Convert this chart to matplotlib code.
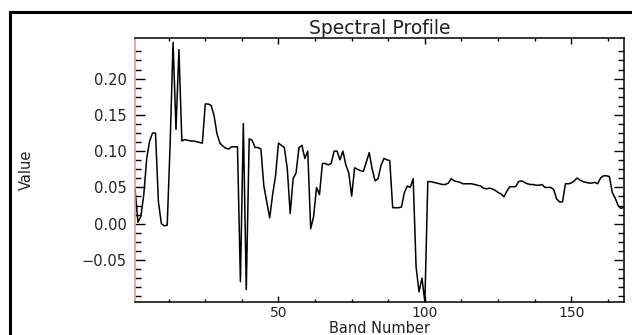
import matplotlib
matplotlib.use("Agg")
import matplotlib.pyplot as plt
import numpy as np
from matplotlib.lines import Line2D
from matplotlib.ticker import MultipleLocator, FixedLocator, FuncFormatter

# spectral values, one per band (1..168)
values = [
    0.048, 0.002, 0.010, 0.040, 0.090, 0.114, 0.125, 0.125, 0.030, 0.000,
    -0.003, -0.002, 0.110, 0.250, 0.130, 0.240, 0.114, 0.116, 0.115, 0.114,
    0.114, 0.113, 0.112, 0.111, 0.165, 0.165, 0.163, 0.149, 0.124, 0.111,
    0.107, 0.104, 0.103, 0.106, 0.106, 0.106, -0.080, 0.138, -0.091, 0.117,
    0.115, 0.105, 0.105, 0.103, 0.052, 0.030, 0.008, 0.040, 0.066, 0.111,
    0.108, 0.105, 0.076, 0.014, 0.062, 0.070, 0.105, 0.108, 0.090, 0.100,
    -0.007, 0.010, 0.050, 0.040, 0.083, 0.083, 0.081, 0.083, 0.100, 0.100,
    0.088, 0.100, 0.081, 0.070, 0.038, 0.077, 0.075, 0.073, 0.072, 0.085,
    0.098, 0.075, 0.059, 0.062, 0.080, 0.090, 0.088, 0.087, 0.022, 0.022,
    0.022, 0.023, 0.043, 0.052, 0.050, 0.062, -0.060, -0.094, -0.075, -0.108,
    0.058, 0.058, 0.057, 0.056, 0.055, 0.054, 0.054, 0.056, 0.062, 0.059,
    0.058, 0.057, 0.055, 0.055, 0.055, 0.055, 0.054, 0.053, 0.052, 0.049,
    0.048, 0.049, 0.048, 0.046, 0.043, 0.041, 0.037, 0.045, 0.051, 0.051,
    0.051, 0.058, 0.059, 0.057, 0.055, 0.054, 0.054, 0.053, 0.053, 0.054,
    0.050, 0.050, 0.050, 0.047, 0.034, 0.030, 0.030, 0.055, 0.055, 0.056,
    0.059, 0.063, 0.060, 0.058, 0.057, 0.056, 0.056, 0.057, 0.055, 0.063,
    0.066, 0.066, 0.065, 0.043, 0.035, 0.025, 0.021, 0.023,
]
bands = list(range(1, len(values) + 1))

yticks = [-0.05, 0.00, 0.05, 0.10, 0.15, 0.20]
xticks = [50, 100, 150]

title = "Spectral Profile"
xlabel = "Band Number"
ylabel = "Value"

W, H = 632, 335
fig = plt.figure(figsize=(W / 100, H / 100), dpi=100)
fig.patch.set_facecolor("white")

# outer window frame (only left and top edges show)
fig.add_artist(Line2D([10 / W, 10 / W], [0, 1 - 12 / H], color="black", lw=2.2,
                      transform=fig.transFigure))
fig.add_artist(Line2D([10 / W, 1], [1 - 12 / H, 1 - 12 / H], color="black", lw=2.2,
                      transform=fig.transFigure))

ax = fig.add_axes([135 / W, 1 - 302 / H, (624 - 135) / W, (302 - 38) / H])
ax.plot(bands, values, color="black", lw=1.1)

ax.set_xlim(1, 168)
ax.set_ylim(-0.108, 0.256)

ax.xaxis.set_major_locator(FixedLocator(xticks))
ax.xaxis.set_minor_locator(MultipleLocator(12.5))
ax.yaxis.set_major_locator(FixedLocator(yticks))
ax.yaxis.set_minor_locator(FixedLocator(np.arange(-0.1, 0.245, 0.0125)))
ax.yaxis.set_major_formatter(FuncFormatter(lambda v, p: ("%.2f" % v).replace("-", "\u2212")))

ax.tick_params(axis="x", which="both", direction="in", top=True, bottom=True,
               labelsize=10, labelcolor="#222222", pad=3)
ax.tick_params(axis="x", which="major", length=4, width=1)
ax.tick_params(axis="x", which="minor", length=2.5, width=1)
ax.tick_params(axis="y", which="both", direction="in", left=True, right=True,
               labelsize=10.5, labelcolor="#222222", pad=6)
ax.tick_params(axis="y", which="major", length=7, width=1)
ax.tick_params(axis="y", which="minor", length=4.5, width=1)

for s in ax.spines.values():
    s.set_linewidth(1.1)
ax.spines["left"].set_color("#e09090")

ax.set_title(title, fontsize=13.5, color="#222222", pad=2)
ax.set_xlabel(xlabel, fontsize=10.5, color="#222222", va="top")
ax.xaxis.set_label_coords(0.5, -(321 - 302) / (302 - 38))
ax.set_ylabel(ylabel, fontsize=10.5, color="#222222")
ax.yaxis.set_label_coords(-101 / (624 - 135), 0.5)

fig.savefig("out.png", dpi=100, facecolor="white")
